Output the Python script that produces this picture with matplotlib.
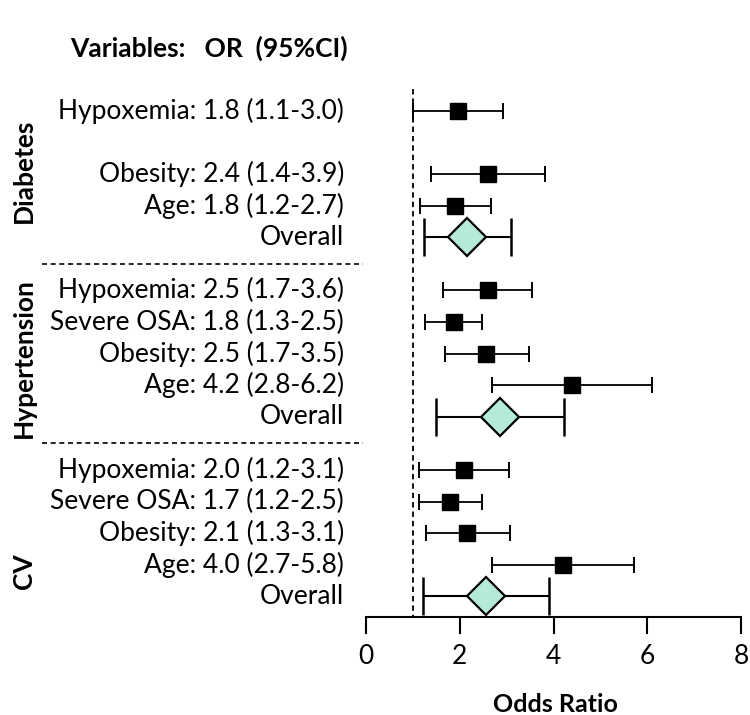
import numpy as np
import matplotlib
matplotlib.use("Agg")
import matplotlib.pyplot as plt
import matplotlib.transforms as mtransforms

plt.rcParams['font.family'] = ['Lato', 'DejaVu Sans']

# groups and the rows inside each group (None = empty row)
groups = ["Diabetes", "Hypertension", "CV"]
row_names = ["Hypoxemia", "Severe OSA", "Obesity", "Age", "Overall"]

# label text as printed in the figure
labels = {
    "Diabetes": ["Hypoxemia: 1.8 (1.1-3.0)", None, "Obesity: 2.4 (1.4-3.9)",
                 "Age: 1.8 (1.2-2.7)", "Overall"],
    "Hypertension": ["Hypoxemia: 2.5 (1.7-3.6)", "Severe OSA: 1.8 (1.3-2.5)",
                     "Obesity: 2.5 (1.7-3.5)", "Age: 4.2 (2.8-6.2)", "Overall"],
    "CV": ["Hypoxemia: 2.0 (1.2-3.1)", "Severe OSA: 1.7 (1.2-2.5)",
           "Obesity: 2.1 (1.3-3.1)", "Age: 4.0 (2.7-5.8)", "Overall"],
}

# plotted values
est = {
    "Diabetes": [1.97, None, 2.60, 1.90, 2.16],
    "Hypertension": [2.60, 1.87, 2.56, 4.40, 2.86],
    "CV": [2.10, 1.80, 2.16, 4.21, 2.56],
}
low = {
    "Diabetes": [1.00, None, 1.38, 1.15, 1.23],
    "Hypertension": [1.64, 1.26, 1.68, 2.69, 1.50],
    "CV": [1.14, 1.14, 1.27, 2.69, 1.22],
}
high = {
    "Diabetes": [2.93, None, 3.82, 2.66, 3.09],
    "Hypertension": [3.55, 2.47, 3.47, 6.10, 4.23],
    "CV": [3.05, 2.47, 3.07, 5.71, 3.90],
}

xticks = [0, 2, 4, 6, 8]
ref_line = 1

fig = plt.figure(figsize=(7.5, 7.15), dpi=100)

# axes: row 0 at 110.7 px, axis at row 16 (616.7 px), 31.6 px per row
W, H = 750.0, 715.0
row_px = 31.6
top_row = -1.5
bottom_row = 16.0
ax_top = 110.7 + top_row * row_px
ax_bot = 616.7
ax = fig.add_axes([366 / W, 1 - ax_bot / H, (741 - 366) / W, (ax_bot - ax_top) / H])
ax.set_xlim(0, 8)
ax.set_ylim(bottom_row, top_row)

for s in ["top", "right", "left"]:
    ax.spines[s].set_visible(False)
ax.spines["bottom"].set_linewidth(1.5)
ax.set_yticks([])
ax.set_xticks(xticks)
ax.tick_params(axis="x", length=12, width=1.5, pad=8, labelsize=19)

group_gap = 1.68
text_tr = mtransforms.blended_transform_factory(fig.transFigure, ax.transData)

y0 = 0.0
group_pos = []
for gi, g in enumerate(groups):
    ys = [y0 + i for i in range(len(row_names))]
    group_pos.append((ys[0], ys[-1]))
    for i, name in enumerate(row_names):
        if est[g][i] is None:
            continue
        y = ys[i]
        if name == "Overall":
            ax.errorbar(est[g][i], y, xerr=[[est[g][i] - low[g][i]], [high[g][i] - est[g][i]]],
                        fmt="none", ecolor="black", elinewidth=1.5, capsize=13.5, capthick=1.8, zorder=2)
            ax.plot(est[g][i], y, marker="D", ms=19, mfc="#b4ead6", mec="black", mew=1.6, zorder=3)
        else:
            ax.errorbar(est[g][i], y, xerr=[[est[g][i] - low[g][i]], [high[g][i] - est[g][i]]],
                        fmt="s", color="black", ms=11.5, elinewidth=1.3, capsize=5.5, capthick=1.4, zorder=3)
        ax.text(344 / W, y, labels[g][i], transform=text_tr, ha="right", va="center", fontsize=19)
    y0 = ys[-1] + group_gap

# reference line
ax.plot([ref_line, ref_line], [-0.7, bottom_row], ls=(0, (3, 2.2)), color="black", lw=1.3,
        clip_on=False, zorder=1)

# separators between groups
for gi in range(len(groups) - 1):
    ysep = (group_pos[gi][1] + group_pos[gi + 1][0]) / 2
    ax.plot([42 / W, 363 / W], [ysep, ysep], transform=text_tr, ls=(0, (3, 2.2)),
            color="black", lw=1.2, clip_on=False)

# group labels
label_shift = [-0.1, 0.15, 1.2]
for gi, g in enumerate(groups):
    yc = (group_pos[gi][0] + group_pos[gi][1]) / 2 + label_shift[gi]
    ax.text(24 / W, yc, g, transform=text_tr, rotation=90, ha="center", va="center",
            fontsize=19, fontweight="bold")

fig.text(70 / W, 1 - 48 / H, "Variables:   OR  (95%CI)", ha="left", va="center",
         fontsize=19, fontweight="bold")
fig.text(555 / W, 1 - 705 / H, "Odds Ratio", ha="center", va="center",
         fontsize=18, fontweight="bold")

fig.savefig("out.png", dpi=100)
